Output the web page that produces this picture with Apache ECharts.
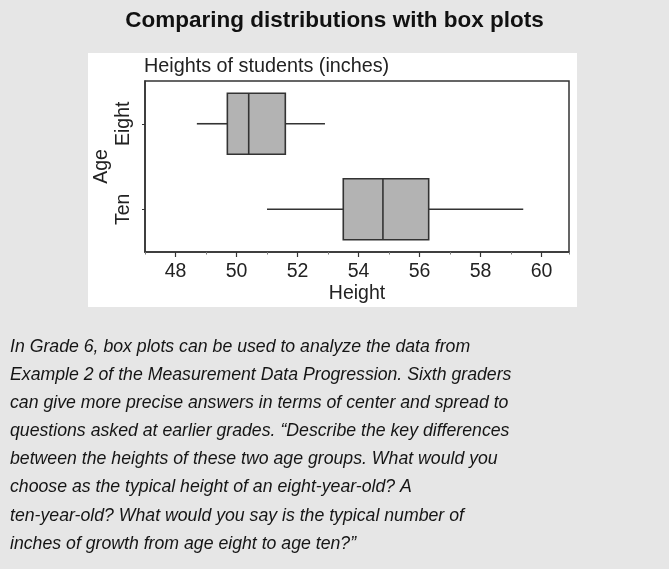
<!DOCTYPE html>
<html>
<head>
    <meta charset="UTF-8">
    <title>Comparing distributions with box plots</title>
    <script src="https://cdn.jsdelivr.net/npm/echarts@6/dist/echarts.min.js"></script>
    <style>
        html, body { margin: 0; padding: 0; background: #e6e6e6; }
    </style>
</head>
<body>
<div id="chart" style="width:669px;height:569px;"></div>
<script>
    // data
    var ages = ['Eight', 'Ten'];
    var eight = [48.7, 49.7, 50.4, 51.6, 52.9];   // min, Q1, median, Q3, max
    var ten = [51.0, 53.5, 54.8, 56.3, 59.4];
    var xMin = 47, xMax = 60.9;
    var majorMin = 48, majorMax = 60;            // labelled ticks
    var textLines = [
        'In Grade 6, box plots can be used to analyze the data from',
        'Example 2 of the Measurement Data Progression. Sixth graders',
        'can give more precise answers in terms of center and spread to',
        'questions asked at earlier grades. \u201cDescribe the key differences',
        'between the heights of these two age groups. What would you',
        'choose as the typical height of an eight-year-old? A',
        'ten-year-old? What would you say is the typical number of',
        'inches of growth from age eight to age ten?\u201d'
    ];

    var font = 'Liberation Sans, Arial, sans-serif';
    var ink = '#333';
    var plotLeft = 145, plotWidth = 424;
    var pxPerUnit = plotWidth / (xMax - xMin);

    // one row per box: [category, min, Q1, median, Q3, max]
    var boxes = [eight, ten].map(function (v, i) { return [ages[i]].concat(v); });

    function renderBox(params, api) {
        var cat = api.value(0);
        var lo = api.coord([api.value(1), cat]);
        var q1 = api.coord([api.value(2), cat]);
        var md = api.coord([api.value(3), cat]);
        var q3 = api.coord([api.value(4), cat]);
        var hi = api.coord([api.value(5), cat]);
        var half = api.size([0, 1])[1] * 0.357;
        var y = lo[1];
        var line = {stroke: ink, lineWidth: 1.6};
        return {
            type: 'group',
            children: [
                {type: 'line', shape: {x1: lo[0], y1: y, x2: q1[0], y2: y}, style: line},
                {type: 'line', shape: {x1: q3[0], y1: y, x2: hi[0], y2: y}, style: line},
                {type: 'rect', shape: {x: q1[0], y: y - half, width: q3[0] - q1[0], height: half * 2},
                    style: {fill: '#b3b3b3', stroke: ink, lineWidth: 1.6}},
                {type: 'line', shape: {x1: md[0], y1: y - half, x2: md[0], y2: y + half}, style: line}
            ]
        };
    }

    var myChart = echarts.init(document.getElementById('chart'));
    var option = {
        backgroundColor: '#e6e6e6',
        animation: false,
        textStyle: {fontFamily: font},
        title: {
            text: 'Comparing distributions with box plots',
            left: 'center',
            top: 4,
            textStyle: {fontSize: 22.5, fontWeight: 'bold', color: '#111', fontFamily: font}
        },
        graphic: [
            {   // white panel behind the plot
                type: 'rect', z: -10, silent: true,
                shape: {x: 88, y: 53, width: 489, height: 254},
                style: {fill: '#fff'}
            },
            {
                type: 'text', left: 144, top: 57,
                style: {text: 'Heights of students (inches)', fontSize: 19.8, fill: '#222', fontFamily: font}
            },
            {
                type: 'text', left: 10, top: 333,
                style: {
                    text: textLines.join('\n'),
                    fontSize: 17.7, fontStyle: 'italic', lineHeight: 28.1,
                    fill: '#151515', fontFamily: font
                }
            }
        ],
        grid: [
            {
                left: plotLeft, top: 81, width: plotWidth, height: 171,
                show: true, borderColor: ink, borderWidth: 1.5, backgroundColor: '#fff'
            },
            {   // strip holding only the longer, labelled ticks
                left: plotLeft + (majorMin - xMin) * pxPerUnit, top: 81,
                width: (majorMax - majorMin) * pxPerUnit, height: 171
            }
        ],
        xAxis: [
            {
                type: 'value', min: xMin, max: xMax, interval: 1, gridIndex: 0,
                name: 'Height', nameLocation: 'middle', nameGap: 32,
                nameTextStyle: {fontSize: 19.5, color: '#222'},
                axisLine: {show: true, lineStyle: {color: ink, width: 1.5}},
                axisTick: {show: true, length: 2.5, lineStyle: {color: '#777'}},
                axisLabel: {
                    fontSize: 19.5, color: '#222', margin: 10,
                    formatter: function (v) { return (v % 2 === 0) ? String(v) : ''; }
                },
                splitLine: {show: false}
            },
            {
                type: 'value', min: majorMin, max: majorMax, interval: 2, gridIndex: 1,
                axisLine: {show: false},
                axisTick: {show: true, length: 5, lineStyle: {color: ink, width: 1.2}},
                axisLabel: {show: false},
                splitLine: {show: false}
            }
        ],
        yAxis: [
            {
                type: 'category', data: ages, inverse: true, gridIndex: 0,
                name: 'Age', nameLocation: 'middle', nameRotate: 90, nameGap: 33,
                nameMoveOverlap: false,
                nameTextStyle: {fontSize: 19.5, color: '#222'},
                axisLine: {show: true, lineStyle: {color: ink, width: 1.5}},
                axisTick: {show: true, alignWithLabel: true, length: 3, lineStyle: {color: ink}},
                axisLabel: {fontSize: 19.5, color: '#222', rotate: 90, margin: 11},
                splitLine: {show: false}
            },
            {
                type: 'value', gridIndex: 1, show: false
            }
        ],
        series: [{
            type: 'custom',
            xAxisIndex: 0, yAxisIndex: 0,
            renderItem: renderBox,
            encode: {x: [1, 2, 3, 4, 5], y: 0},
            data: boxes
        }]
    };

    myChart.setOption(option);
</script>
</body>
</html>
